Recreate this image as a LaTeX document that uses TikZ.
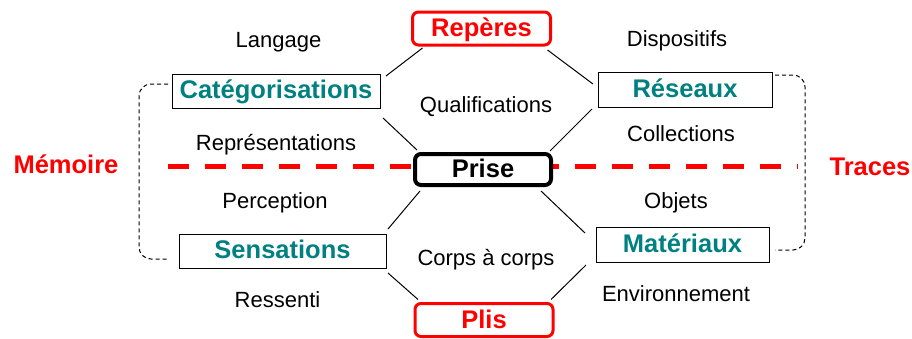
\documentclass[tikz,border=0pt]{standalone}
\usepackage{fontspec}
\setmainfont{Liberation Sans}
\usepackage{xcolor}
\usepackage{tikz}
\definecolor{tealtxt}{RGB}{0,128,128}
\definecolor{redtxt}{RGB}{255,0,0}

\begin{document}
\begin{tikzpicture}[x=1pt,y=-1pt,
  box/.style={draw,line width=1,inner sep=0,outer sep=0,text=tealtxt,
    text height=19,text depth=3.5,font=\bfseries\fontsize{25.5}{28}\selectfont},
  pole/.style={draw=redtxt,line width=3,rounded corners=6,inner sep=0,outer sep=0,
    minimum width=138,minimum height=33,text=redtxt,text height=19,text depth=3,
    font=\bfseries\fontsize{25.5}{28}\selectfont},
  word/.style={anchor=base,font=\fontsize{22}{24}\selectfont},
  side/.style={anchor=base,text=redtxt,font=\bfseries\fontsize{25.5}{28}\selectfont},
  link/.style={line width=1},
  bracket/.style={line width=1,dash pattern=on 4pt off 3pt,rounded corners=12}]
\useasboundingbox (0,0) rectangle (912,338);

\coordinate (dl) at (168,166);
\coordinate (dr) at (798,166);
\draw[redtxt,line width=5,dash pattern=on 21pt off 16pt] (dl) -- (dr);

\node (rep) at (481.5,28.5) [pole] {Repères};
\node (prise) at (483,169.5) [draw,line width=4,rounded corners=6,fill=white,inner sep=0,outer sep=0,
  minimum width=136,minimum height=31,text height=19,text depth=3,
  font=\bfseries\fontsize{25.5}{28}\selectfont] {Prise};
\node (plis) at (484,320) [pole] {Plis};
\node (cat) at (276,91) [box,minimum width=208,minimum height=34] {Catégorisations};
\node (res) at (685,89.5) [box,minimum width=174,minimum height=35] {Réseaux};
\node (sens) at (282.5,251) [box,minimum width=207,minimum height=34] {Sensations};
\node (mat) at (682.5,244.5) [box,minimum width=173,minimum height=35] {Matériaux};

\node (mem) at (66,173) [side] {Mémoire};
\node (tra) at (870,175) [side] {Traces};

\node (lan) at (278.5,47) [word] {Langage};
\node (dis) at (677,46) [word] {Dispositifs};
\node (qua) at (486,112) [word] {Qualifications};
\node (rpr) at (276,150) [word] {Représentations};
\node (col) at (681,141) [word] {Collections};
\node (per) at (275,208) [word] {Perception};
\node (obj) at (676,208) [word] {Objets};
\node (cor) at (486,265) [word] {Corps à corps};
\node (res2) at (277.5,307) [word] {Ressenti};
\node (env) at (676,301) [word] {Environnement};

\draw[link] ([shift={(10,3)}]rep.south west) -- ([shift={(6,2)}]cat.north east);
\draw[link] ([shift={(-3,5)}]rep.south east) -- ([shift={(-5,12)}]res.north west);
\draw[link] ([shift={(3,10)}]cat.south east) -- ([shift={(2,-4)}]prise.north west);
\draw[link] ([shift={(-6,2)}]res.south west) -- ([shift={(-1,-3)}]prise.north east);
\draw[link] ([shift={(5,6)}]prise.south west) -- ([shift={(2,-5)}]sens.north east);
\draw[link] ([shift={(-10,6)}]prise.south east) -- ([shift={(-11,6)}]mat.north west);
\draw[link] ([shift={(2,5)}]sens.south east) -- ([shift={(3,-4)}]plis.north west);
\draw[link] ([shift={(-10,3)}]mat.south west) -- ([shift={(-2,-4)}]plis.north east);

\draw[bracket] ([shift={(-4,-7)}]cat.west) -- ++(-29,0) |- ([shift={(-12,8)}]sens.west);
\draw[bracket] ([shift={(3,-14.5)}]res.east) -- ++(30,0) |- ([shift={(6,5.5)}]mat.east);
\end{tikzpicture}
\end{document}
